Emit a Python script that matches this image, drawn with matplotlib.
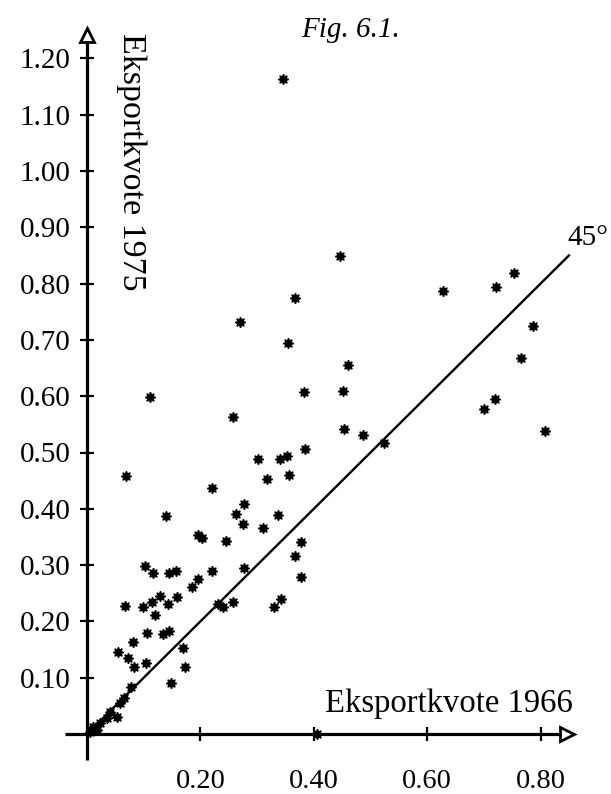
import matplotlib
matplotlib.use('Agg')
import matplotlib.pyplot as plt

# Eksportkvote 1966 (x) and 1975 (y)
x1966 = [0.346, 0.447, 0.367, 0.270, 0.355, 0.461, 0.383, 0.451, 0.627, 0.721,
         0.753, 0.786, 0.765, 0.719, 0.701, 0.807, 0.454, 0.486, 0.523, 0.385,
         0.111, 0.258, 0.302, 0.341, 0.352, 0.318, 0.357, 0.069, 0.221, 0.140,
         0.277, 0.263, 0.276, 0.196, 0.203, 0.246, 0.337, 0.311, 0.378, 0.366,
         0.378, 0.277, 0.343, 0.329, 0.221, 0.196, 0.186, 0.102, 0.117, 0.145,
         0.157, 0.067, 0.099, 0.115, 0.129, 0.120, 0.143, 0.159, 0.106, 0.134,
         0.145, 0.081, 0.231, 0.239, 0.258, 0.055, 0.072, 0.083, 0.104, 0.170,
         0.173, 0.148, 0.078, 0.065, 0.058, 0.041, 0.053, 0.035, 0.023, 0.011,
         0.005, 0.018, 0.405]
x1975 = [1.163, 0.849, 0.774, 0.732, 0.694, 0.655, 0.607, 0.609, 0.787, 0.794,
         0.819, 0.725, 0.668, 0.595, 0.577, 0.538, 0.542, 0.531, 0.517, 0.506,
         0.599, 0.563, 0.488, 0.488, 0.494, 0.453, 0.460, 0.458, 0.437, 0.387,
         0.409, 0.391, 0.373, 0.353, 0.348, 0.343, 0.389, 0.366, 0.341, 0.316,
         0.279, 0.295, 0.240, 0.226, 0.290, 0.275, 0.261, 0.298, 0.286, 0.286,
         0.290, 0.227, 0.226, 0.234, 0.245, 0.211, 0.231, 0.243, 0.179, 0.178,
         0.183, 0.163, 0.231, 0.226, 0.234, 0.146, 0.135, 0.119, 0.126, 0.153,
         0.119, 0.091, 0.083, 0.064, 0.055, 0.039, 0.030, 0.028, 0.020, 0.012,
         0.004, 0.007, 0.0]

yticks = [0.10, 0.20, 0.30, 0.40, 0.50, 0.60, 0.70, 0.80, 0.90, 1.00, 1.10, 1.20]
xticks = [0.20, 0.40, 0.60, 0.80]

plt.rcParams['font.family'] = 'Liberation Serif'

fig = plt.figure(figsize=(6.11, 7.94), dpi=100)
ax = fig.add_axes([0, 0, 1, 1])
ax.set_xlim(-87 / 567, (611 - 87) / 567)
ax.set_ylim((734 - 794) / 563, 734 / 563)
ax.axis('off')

# axes with open arrow heads
ax.plot([0, 0], [-0.046, 1.24], color='black', lw=2.3, solid_capstyle='butt')
ax.plot([-0.039, 0.84], [0, 0], color='black', lw=2.3, solid_capstyle='butt')
ax.plot(0, 1.242, marker='^', ms=10, mfc='white', mec='black', mew=2)
ax.plot(0.846, 0, marker='>', ms=10, mfc='white', mec='black', mew=2)

# tick marks
ax.plot([0] * len(yticks), yticks, ls='none', marker='_', ms=10, mew=1.6, color='black')
ax.plot(xticks, [0] * len(xticks), ls='none', marker='|', ms=10, mew=1.6, color='black')

for v in yticks:
    ax.annotate('%.2f' % v, (0, v), xytext=(-12, 0), textcoords='offset points',
                ha='right', va='center_baseline', fontsize=21)
for v in xticks:
    ax.annotate('%.2f' % v, (v, 0), xytext=(0, -32), textcoords='offset points',
                ha='center', va='center_baseline', fontsize=20.5)

# 45 degree line
ax.plot([0, 0.85], [0, 0.85], color='black', lw=1.7)
ax.text(0.848, 0.858, '45°', fontsize=21, ha='left', va='bottom')

# observations
ax.plot(x1966, x1975, ls='none', marker=(8, 1, 0), ms=7.5, color='black')

ax.text((573 - 87) / 567, (734 - 712) / 563, 'Eksportkvote 1966',
        fontsize=23.5, ha='right', va='baseline')
ax.text((131 - 87) / 567, (734 - 33) / 563, 'Eksportkvote 1975',
        fontsize=24.5, rotation=-90, ha='center', va='top')
ax.text((351 - 87) / 567, (734 - 30) / 563, 'Fig. 6.1.',
        fontsize=21, style='italic', ha='center', va='center')

fig.savefig('out.png', dpi=100)
